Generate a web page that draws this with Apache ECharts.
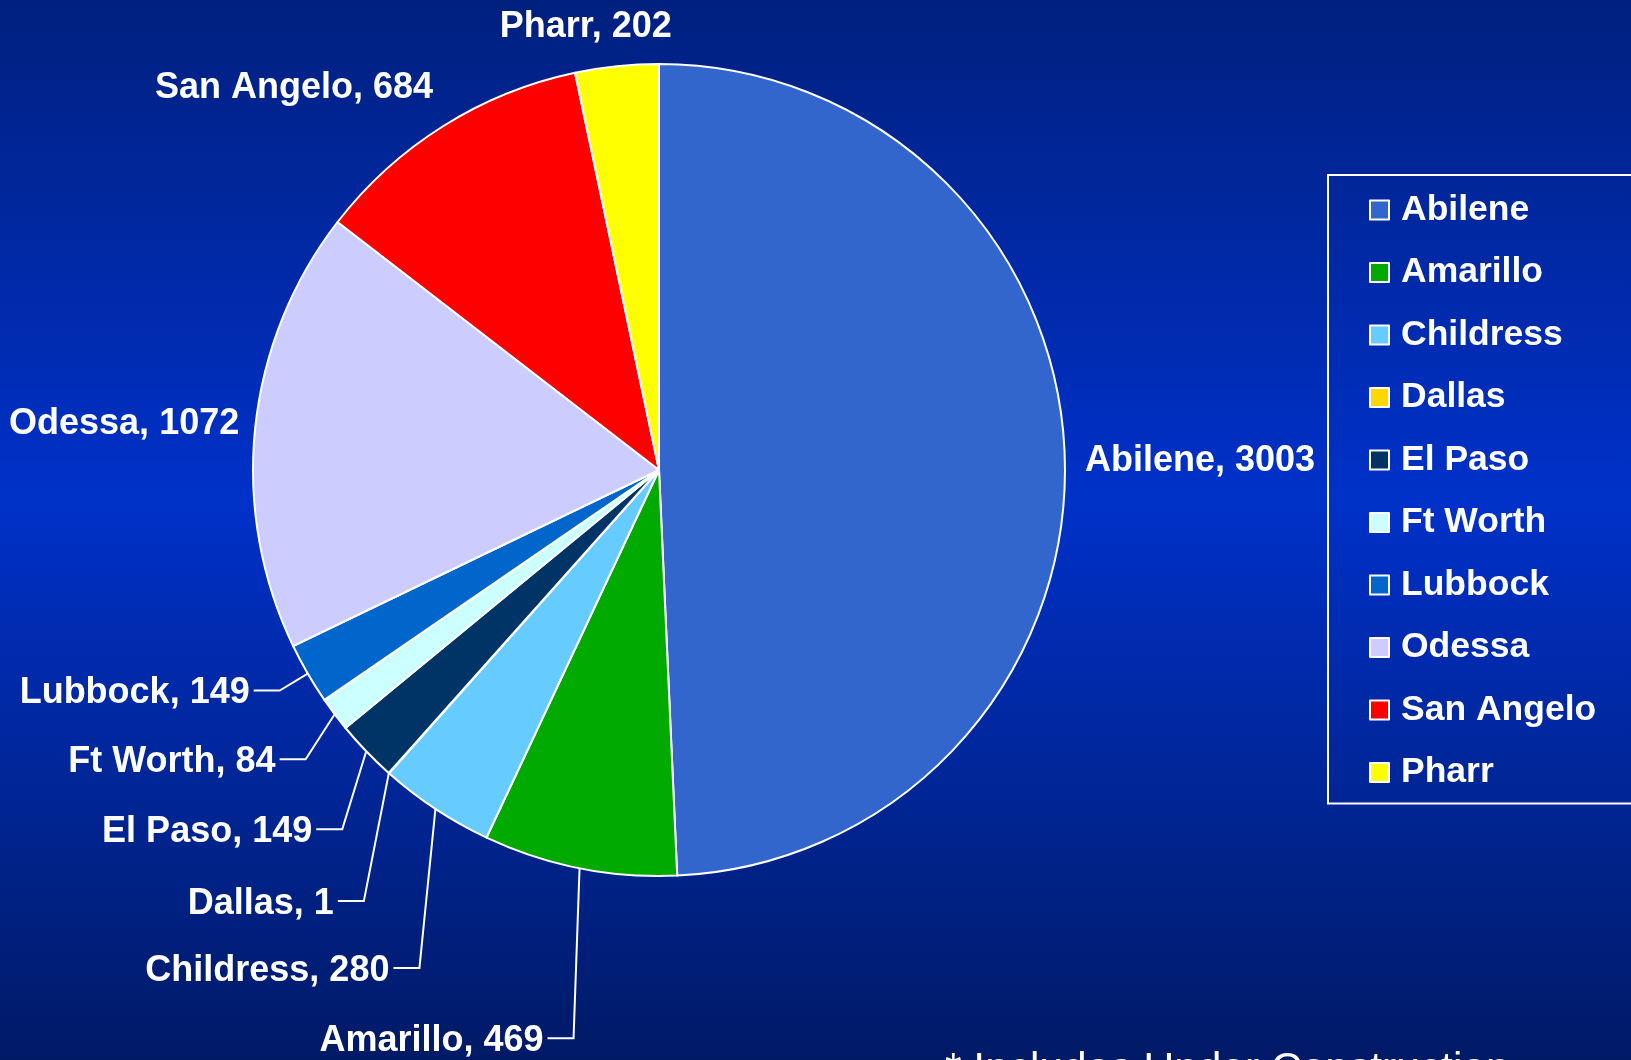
<!DOCTYPE html>
<html><head><meta charset="utf-8">
<script src="https://cdn.jsdelivr.net/npm/echarts@6/dist/echarts.min.js"></script>
<style>html,body{margin:0;padding:0;width:1631px;height:1060px;overflow:hidden;background:#0030c8}#c{width:1631px;height:1060px}</style>
</head><body><div id="c"></div>
<script>
const categories = ['Abilene','Amarillo','Childress','Dallas','El Paso','Ft Worth','Lubbock','Odessa','San Angelo','Pharr'];
const values = [3003, 469, 280, 1, 149, 84, 149, 1072, 684, 202];
const colors = ['#3366CC','#00AA00','#66CCFF','#FFD700','#003366','#CCFFFF','#0066CC','#CCCCFF','#FF0000','#FFFF00'];
const footnote = '* Includes Under Construction';

// layout of labels only (offsets from slice's outer edge at mid-angle)
const labelPlacement = [
  {line:false, dx:20,  dy:-3,  align:'left'},    // Abilene
  {line:true,  ex:-6,  ey:170},                   // Amarillo
  {line:true,  ex:-16, ey:159},                   // Childress
  {line:true,  ex:-25, ey:128},                   // Dallas
  {line:true,  ex:-24, ey:78},                    // El Paso
  {line:true,  ex:-29, ey:45},                    // Ft Worth
  {line:true,  ex:-28, ey:17},                    // Lubbock
  {line:false, dx:-16, dy:-7,  align:'right'},   // Odessa
  {line:false, dx:-10, dy:-41, align:'right'},   // San Angelo
  {line:false, dx:-31, dy:-42, align:'center'}   // Pharr
];
const TEXT_SHIFT = 3;

const CX = 659, CY = 470, R = 406;
const total = values.reduce((a, b) => a + b, 0);
const cum = [];
values.reduce((acc, v, i) => { cum[i] = acc; return acc + v; }, 0);
function edgePoint(i) {
  const a = (cum[i] + values[i] / 2) / total * Math.PI * 2;
  return [CX + R * Math.sin(a), CY - R * Math.cos(a)];
}

const FONT = '"Liberation Sans", Arial, sans-serif';
const chart = echarts.init(document.getElementById('c'), null, {renderer: 'canvas'});
chart.setOption({
  animation: false,
  backgroundColor: {
    type: 'linear', x: 0, y: 0, x2: 0, y2: 1,
    colorStops: [
      {offset: 0, color: '#00207F'},
      {offset: 0.47, color: '#0031C9'},
      {offset: 1, color: '#001A66'}
    ]
  },
  legend: {
    data: categories,
    orient: 'vertical',
    left: 1328, top: 175,
    icon: 'rect',
    itemWidth: 19, itemHeight: 19,
    itemGap: 22.5,
    padding: [15, 60, 11, 41],
    borderColor: '#ffffff', borderWidth: 2,
    itemStyle: {borderColor: '#ffffff', borderWidth: 2},
    textStyle: {color: '#ffffff', fontSize: 35.5, fontWeight: 'bold', fontFamily: FONT, lineHeight: 40, padding: [0, 0, 0, 7]}
  },
  graphic: [{
    type: 'text', left: 945, top: 1049,
    style: {text: footnote, fill: '#ffffff', font: '42.5px ' + FONT}
  }],
  series: [{
    type: 'pie',
    center: [CX, CY],
    radius: R,
    startAngle: 90,
    clockwise: true,
    avoidLabelOverlap: false,
    emphasis: {disabled: true},
    itemStyle: {borderColor: '#ffffff', borderWidth: 2},
    label: {
      show: true, position: 'outside',
      formatter: '{b}, {c}',
      color: '#ffffff', fontSize: 36, fontWeight: 'bold', fontFamily: FONT
    },
    labelLine: {show: true, lineStyle: {color: '#ffffff', width: 2}},
    labelLayout: function (p) {
      const i = p.dataIndex;
      const e = edgePoint(i);
      const L = labelPlacement[i];
      if (L.line) {
        const elbow = [e[0] + L.ex, e[1] + L.ey];
        const end = [elbow[0] - 26, elbow[1]];
        return {x: end[0] - 4, y: elbow[1] + TEXT_SHIFT, align: 'right', verticalAlign: 'middle',
                labelLinePoints: [e, elbow, end]};
      }
      return {x: e[0] + L.dx, y: e[1] + L.dy + TEXT_SHIFT, align: L.align, verticalAlign: 'middle'};
    },
    data: categories.map((name, i) => ({
      name: name, value: values[i],
      itemStyle: {color: colors[i]},
      labelLine: {show: labelPlacement[i].line}
    }))
  }]
});
</script></body></html>
